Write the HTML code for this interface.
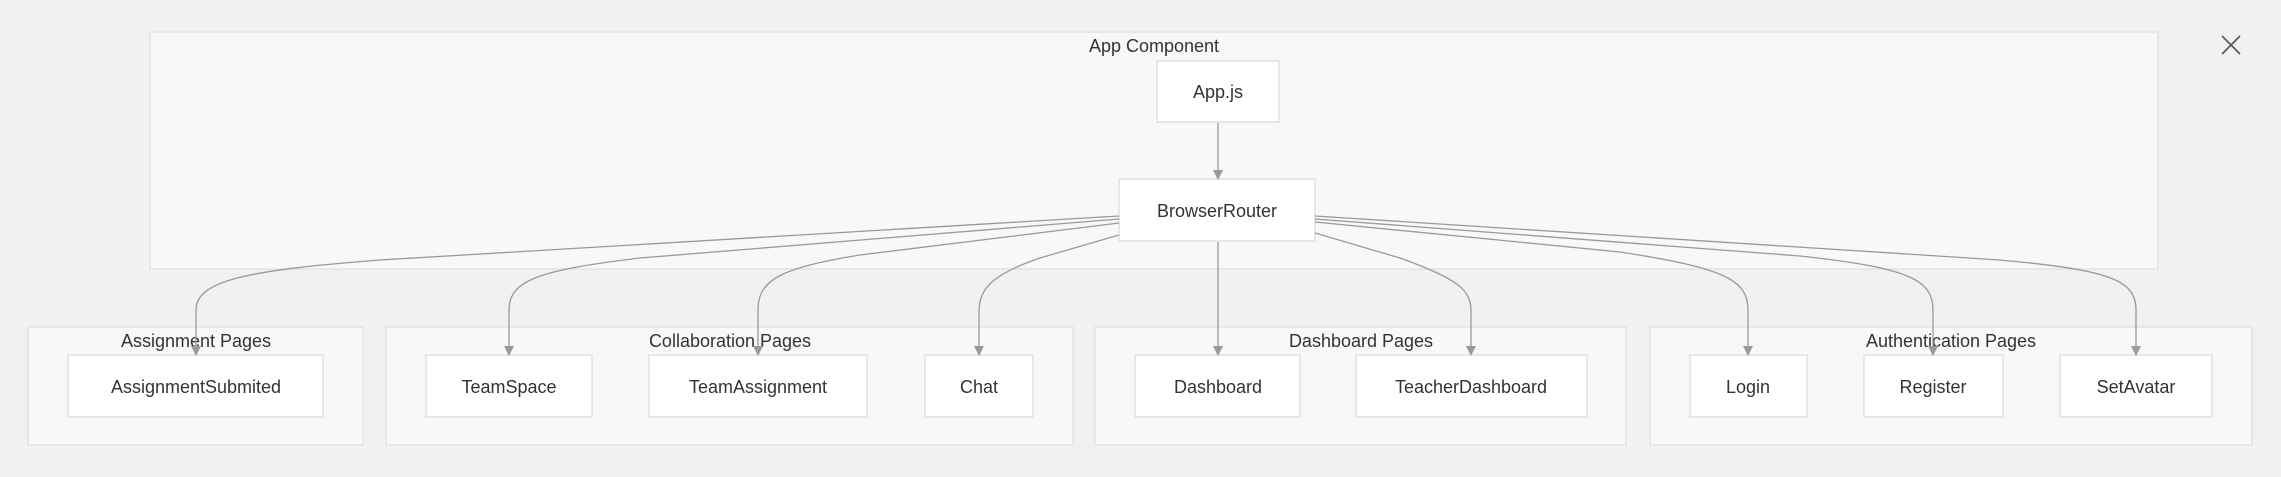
<!DOCTYPE html>
<html><head><meta charset="utf-8"><style>
html,body{margin:0;padding:0;background:#f2f1f0;}
svg{display:block;}
text{font-family:"Liberation Sans",sans-serif;fill:#333;font-size:18px;text-anchor:middle;}
.g{fill:#f8f8f8;stroke:#e3e3e3;stroke-width:1.5;}
.n{fill:#fff;stroke:#e0e0e0;stroke-width:1.5;}
.e{fill:none;stroke:#999;stroke-width:1.3;}
</style></head><body>
<svg width="2281" height="477" viewBox="0 0 2281 477" xmlns="http://www.w3.org/2000/svg">
<defs><marker id="a" markerWidth="10" markerHeight="10" refX="9" refY="5" orient="auto" markerUnits="userSpaceOnUse"><path d="M0,0 L10,5 L0,10 z" fill="#999"/></marker></defs>
<rect class="g" x="150" y="32" width="2008" height="237"/>
<text x="1154" y="52">App Component</text>
<rect class="g" x="28" y="327" width="335" height="118"/>
<rect class="g" x="386" y="327" width="687" height="118"/>
<rect class="g" x="1095" y="327" width="531" height="118"/>
<rect class="g" x="1650" y="327" width="602" height="118"/>
<text x="196" y="347">Assignment Pages</text>
<text x="730" y="347">Collaboration Pages</text>
<text x="1361" y="347">Dashboard Pages</text>
<text x="1951" y="347">Authentication Pages</text>
<rect class="n" x="1157" y="61" width="122" height="61"/>
<text x="1218" y="98">App.js</text>
<rect class="n" x="1119" y="179" width="196" height="62"/>
<text x="1217" y="217">BrowserRouter</text>
<rect class="n" x="68" y="355" width="255" height="62"/><text x="196" y="393">AssignmentSubmited</text>
<rect class="n" x="426" y="355" width="166" height="62"/><text x="509" y="393">TeamSpace</text>
<rect class="n" x="649" y="355" width="218" height="62"/><text x="758" y="393">TeamAssignment</text>
<rect class="n" x="925" y="355" width="108" height="62"/><text x="979" y="393">Chat</text>
<rect class="n" x="1135" y="355" width="165" height="62"/><text x="1218" y="393">Dashboard</text>
<rect class="n" x="1356" y="355" width="231" height="62"/><text x="1471" y="393">TeacherDashboard</text>
<rect class="n" x="1690" y="355" width="117" height="62"/><text x="1748" y="393">Login</text>
<rect class="n" x="1864" y="355" width="139" height="62"/><text x="1933" y="393">Register</text>
<rect class="n" x="2060" y="355" width="152" height="62"/><text x="2136" y="393">SetAvatar</text>
<path class="e" marker-end="url(#a)" d="M1218,123 L1218,179"/>
<path class="e" marker-end="url(#a)" d="M1218,242 L1218,355"/>
<path class="e" marker-end="url(#a)" d="M1119,216 L380,260 C250,270 196,280 196,310 L196,355"/>
<path class="e" marker-end="url(#a)" d="M1119,219 L640,258 C540,270 509,280 509,310 L509,355"/>
<path class="e" marker-end="url(#a)" d="M1119,223 L860,255 C780,268 758,280 758,310 L758,355"/>
<path class="e" marker-end="url(#a)" d="M1119,235 L1040,258 C990,275 979,290 979,312 L979,355"/>
<path class="e" marker-end="url(#a)" d="M1315,233 L1400,258 C1460,280 1471,290 1471,312 L1471,355"/>
<path class="e" marker-end="url(#a)" d="M1315,222 L1620,252 C1725,268 1748,280 1748,310 L1748,355"/>
<path class="e" marker-end="url(#a)" d="M1315,219 L1800,256 C1910,268 1933,280 1933,310 L1933,355"/>
<path class="e" marker-end="url(#a)" d="M1315,216 L2000,260 C2110,270 2136,280 2136,310 L2136,355"/>
<path d="M2222,36 L2240,54 M2240,36 L2222,54" stroke="#555" stroke-width="1.6" fill="none"/>
</svg>
</body></html>
